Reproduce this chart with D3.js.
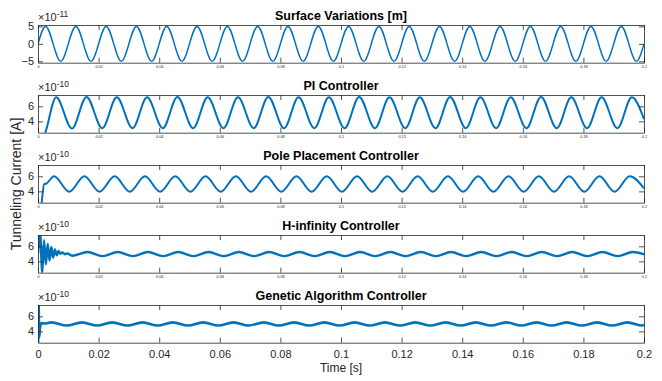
<!DOCTYPE html>
<html>
<head>
<meta charset="utf-8">
<script src="https://cdn.jsdelivr.net/npm/d3@7"></script>
<style>
  body { margin: 0; background: #fff; }
  svg { font-family: "Liberation Sans", Arial, Helvetica, sans-serif; }
</style>
</head>
<body>
<div id="chart"></div>
<script>
// panel titles
let titles = ['Surface Variations [m]', 'PI Controller', 'Pole Placement Controller',
  'H-infinity Controller', 'Genetic Algorithm Controller'];
let exponents = ['-11', '-10', '-10', '-10', '-10'];
let xTicks = [0, 0.02, 0.04, 0.06, 0.08, 0.1, 0.12, 0.14, 0.16, 0.18, 0.2];

// start of each 0.01 s cycle of the 100 Hz surface signal
let cycles = [0, 0.01, 0.02, 0.03, 0.04, 0.05, 0.06, 0.07, 0.08, 0.09,
  0.1, 0.11, 0.12, 0.13, 0.14, 0.15, 0.16, 0.17, 0.18, 0.19];

// surface (x1e-11 m)
let surfLag = [0.0025, 0.0075];
let surfPeaks = [5, 5, 5, 5, 5, 5, 5, 5, 5, 5, 5, 5, 5, 5, 5, 5, 5, 5, 5, 5];
let surfTroughs = [-5, -5, -5, -5, -5, -5, -5, -5, -5, -5, -5, -5, -5, -5, -5, -5, -5, -5, -5, -5];
let surfStart = [[0, 0]];
let surfEnd = [[0.2, 0]];

// PI controller (x1e-10 A)
let piLag = [0.006, 0.0112];
let piPeaks = [7.2, 7.25, 7.2, 7.2, 7.25, 7.2, 7.2, 7.25, 7.2, 7.2, 7.25, 7.2, 7.2, 7.25, 7.2, 7.2, 7.25, 7.2, 7.2, 7.2];
let piTroughs = [3.05, 3.1, 3.1, 3.1, 3.1, 3.1, 3.1, 3.1, 3.1, 3.1, 3.1, 3.1, 3.1, 3.1, 3.1, 3.1, 3.1, 3.1, 3.1, 3.1];
let piStart = [[0, 0], [0.0025, 2.6]];
let piEnd = [[0.2, 4.3]];

// pole placement controller
let ppLag = [0.0053, 0.0103];
let ppPeaks = [6.0, 6.0, 6.0, 6.0, 6.0, 6.0, 6.0, 6.0, 6.0, 6.0, 6.0, 6.0, 6.0, 6.0, 6.0, 6.0, 6.0, 6.0, 6.0, 6.0];
let ppTroughs = [3.95, 3.95, 3.95, 3.95, 3.95, 3.95, 3.95, 3.95, 3.95, 3.95, 3.95, 3.95, 3.95, 3.95, 3.95, 3.95, 3.95, 3.95, 3.95, 3.95];
let ppStart = [[0, 0], [0.0012, 2.5], [0.002, 4.95], [0.0028, 5.05]];
let ppEnd = [[0.2, 4.4]];

// H-infinity controller
let hiLag = [0.0063, 0.0113];
let hiPeaks = [5.2, 5.25, 5.25, 5.25, 5.25, 5.25, 5.25, 5.25, 5.25, 5.25, 5.25, 5.25, 5.25, 5.25, 5.25, 5.25, 5.25, 5.25, 5.25, 5.25];
let hiTroughs = [4.75, 4.7, 4.7, 4.7, 4.7, 4.7, 4.7, 4.7, 4.7, 4.7, 4.7, 4.7, 4.7, 4.7, 4.7, 4.7, 4.7, 4.7, 4.7, 4.7];
let hiStart = [[0, 5], [0.0007, 7.8], [0.0014, 2.5], [0.002, 6.8], [0.0026, 3.6], [0.0032, 6.3],
  [0.0038, 4.1], [0.0044, 5.9], [0.005, 4.5], [0.0056, 5.6], [0.0062, 4.8], [0.0068, 5.4],
  [0.0074, 5.0], [0.008, 5.2], [0.0088, 4.95], [0.0096, 5.05]];
let hiEnd = [[0.2, 4.95]];

// genetic algorithm controller
let gaLag = [0.0045, 0.0095];
let gaPeaks = [5.2, 5.2, 5.2, 5.2, 5.2, 5.2, 5.2, 5.2, 5.2, 5.2, 5.2, 5.2, 5.2, 5.2, 5.2, 5.2, 5.2, 5.2, 5.2, 5.2];
let gaTroughs = [4.78, 4.78, 4.78, 4.78, 4.78, 4.78, 4.78, 4.78, 4.78, 4.78, 4.78, 4.78, 4.78, 4.78, 4.78, 4.78, 4.78, 4.78, 4.78, 4.78];
let gaStart = [[0, 0], [0.0002, 7.8], [0.0004, 3.2], [0.0007, 4.6], [0.0012, 5.1], [0.002, 5.05]];
let gaEnd = [[0.2, 4.95]];

let yTicks = [[-5, 0, 5], [4, 6], [4, 6], [4, 6], [4, 6]];
let yDomains = [[-5.4, 5.4], [2.5, 7.5], [2.5, 7.5], [2.5, 7.5], [2.5, 7.5]];

function buildSeries(start, lag, peaks, troughs, end) {
  let pts = start.slice();
  let first = start[start.length - 1][0];
  cycles.forEach(function(c, i) {
    if (c + lag[0] > first) pts.push([c + lag[0], peaks[i]]);
    if (c + lag[1] > first && c + lag[1] < 0.2) pts.push([c + lag[1], troughs[i]]);
  });
  pts = pts.filter(function(p) { return p[0] < end[0][0]; });
  return pts.concat(end);
}

let series = [
  buildSeries(surfStart, surfLag, surfPeaks, surfTroughs, surfEnd),
  buildSeries(piStart, piLag, piPeaks, piTroughs, piEnd),
  buildSeries(ppStart, ppLag, ppPeaks, ppTroughs, ppEnd),
  buildSeries(hiStart, hiLag, hiPeaks, hiTroughs, hiEnd),
  buildSeries(gaStart, gaLag, gaPeaks, gaTroughs, gaEnd),
];
let strokeWidths = [1.5, 2, 2, 2.4, 2.6];

let width = 662;
let height = 381;
let left = 38;
let right = 644;
let tops = [25, 95, 165, 235, 305];
let panelH = 37.7;
let axisColor = '#262626';
let lineColor = '#0072BD';

let svg = d3.select('#chart')
  .append('svg')
  .attr('width', width)
  .attr('height', height);

let x = d3.scaleLinear().domain([0, 0.2]).range([left, right]);

tops.forEach(function(top, i) {
  let y = d3.scaleLinear().domain(yDomains[i]).range([top + panelH, top]);
  let g = svg.append('g');
  let last = i === tops.length - 1;

  g.append('clipPath')
    .attr('id', 'clip' + i)
    .append('rect')
    .attr('x', left).attr('y', top)
    .attr('width', right - left).attr('height', panelH);

  let line = d3.line()
    .x(function(d) { return x(d[0]); })
    .y(function(d) { return y(d[1]); })
    .curve(d3.curveMonotoneX);

  g.append('path')
    .datum(series[i])
    .attr('clip-path', 'url(#clip' + i + ')')
    .attr('fill', 'none')
    .attr('stroke', lineColor)
    .attr('stroke-width', strokeWidths[i])
    .attr('stroke-linejoin', 'round')
    .attr('d', line);

  // bottom axis, ticks pointing inwards
  let bottom = g.append('g')
    .attr('transform', 'translate(0,' + (top + panelH) + ')')
    .call(d3.axisBottom(x).tickValues(xTicks).tickSizeInner(-5).tickSizeOuter(0)
      .tickFormat(function(d) { return d3.format('~g')(d); }));
  bottom.selectAll('text')
    .attr('fill', axisColor)
    .attr('y', last ? 8 : 3)
    .style('font-size', last ? '11px' : '3.8px');

  g.append('g')
    .attr('transform', 'translate(0,' + top + ')')
    .call(d3.axisTop(x).tickValues(xTicks).tickSizeInner(-5).tickSizeOuter(0).tickFormat(''));

  let leftAxis = g.append('g')
    .attr('transform', 'translate(' + left + ',0)')
    .call(d3.axisLeft(y).tickValues(yTicks[i]).tickSizeInner(-5).tickSizeOuter(0)
      .tickFormat(d3.format('d')));
  leftAxis.selectAll('text')
    .attr('fill', axisColor)
    .attr('x', -4)
    .style('font-size', '11px');

  g.append('g')
    .attr('transform', 'translate(' + right + ',0)')
    .call(d3.axisRight(y).tickValues(yTicks[i]).tickSizeInner(-5).tickSizeOuter(0).tickFormat(''));

  g.selectAll('.domain').attr('stroke', axisColor).attr('stroke-width', 0.8);
  g.selectAll('.tick line').attr('stroke', axisColor).attr('stroke-width', 0.8);

  // multiplier label
  let ex = g.append('text')
    .attr('x', left)
    .attr('y', top - 4)
    .attr('fill', axisColor)
    .style('font-size', '11px')
    .text('\u00d710');
  ex.append('tspan')
    .attr('dy', -4)
    .style('font-size', '8.5px')
    .text(exponents[i]);

  g.append('text')
    .attr('x', (left + right) / 2)
    .attr('y', top - 5)
    .attr('text-anchor', 'middle')
    .attr('font-weight', 'bold')
    .style('font-size', '12.5px')
    .attr('fill', '#000')
    .text(titles[i]);
});

svg.append('text')
  .attr('x', (left + right) / 2)
  .attr('y', 372)
  .attr('text-anchor', 'middle')
  .style('font-size', '12px')
  .attr('fill', axisColor)
  .text('Time [s]');

svg.append('text')
  .attr('transform', 'translate(21,184) rotate(-90)')
  .attr('text-anchor', 'middle')
  .style('font-size', '14px')
  .attr('fill', axisColor)
  .text('Tunneling Current [A]');
</script>
</body>
</html>
